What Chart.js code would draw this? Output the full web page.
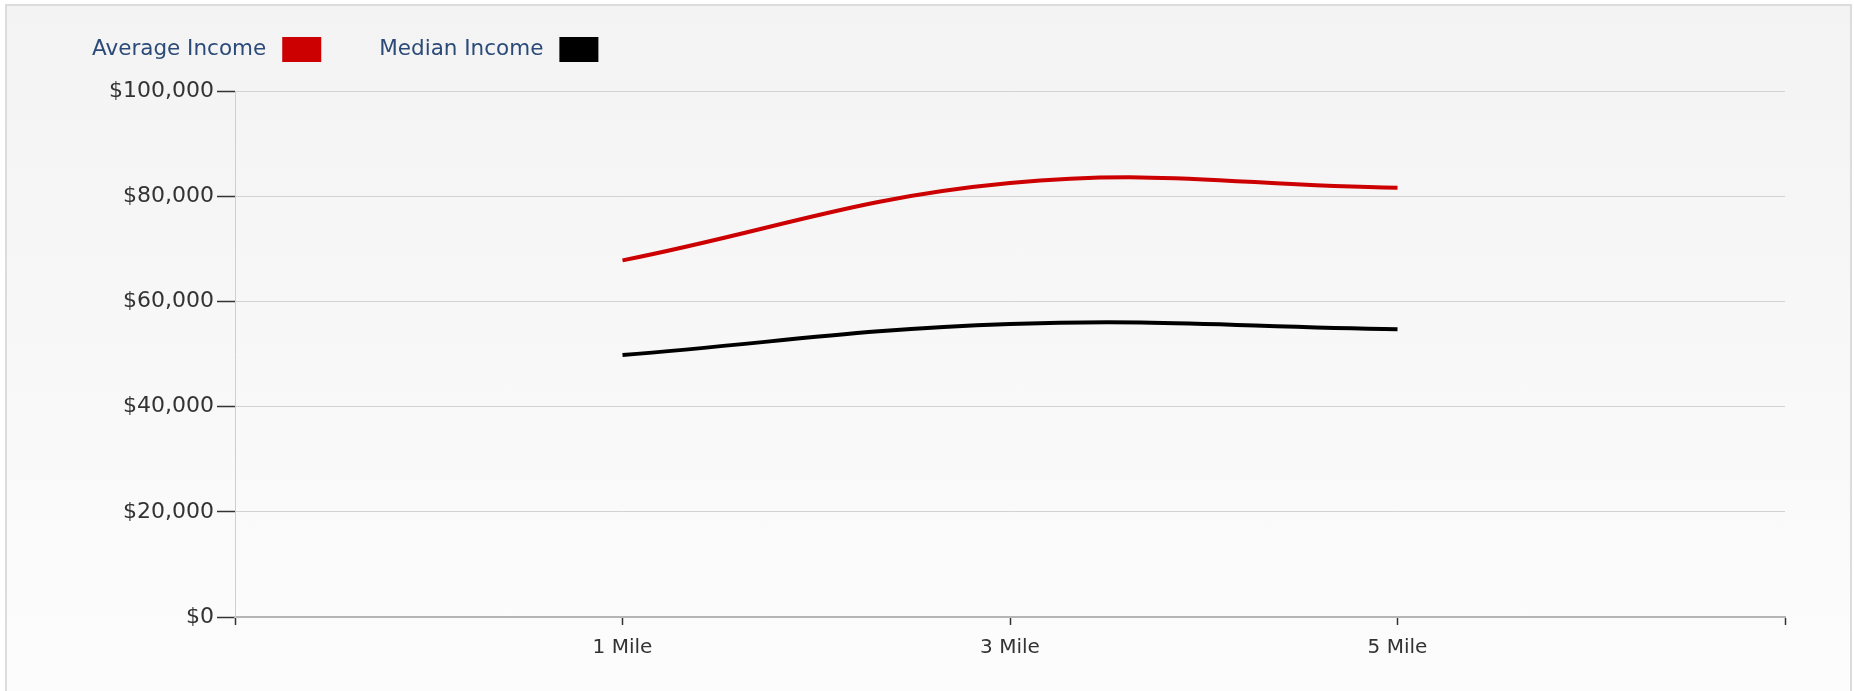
<!DOCTYPE html>
<html>
<head>
<meta charset="utf-8">
<script src="https://cdn.jsdelivr.net/npm/chart.js@4"></script>
<style>
    html, body { margin: 0; padding: 0; background: #fff; overflow: hidden; }
    #frame {
        position: absolute; left: 5px; top: 4px; width: 1843px; height: 720px;
        border: 2px solid #dcdcdc;
        background: linear-gradient(#f3f3f3, #fdfdfd);
    }
    #chartIncome { position: absolute; left: 0; top: 0; }
</style>
</head>
<body>
<div id="frame"></div>
<canvas id="chartIncome" width="1854" height="691"></canvas>
<script>
// data
var labelJarak = ['', '1 Mile', '3 Mile', '5 Mile', ''];
var dataRataRata = [null, 67800, 82500, 81600, null];
var dataMedian = [null, 49800, 55700, 54700, null];
var tickPendapatan = [0, 20000, 40000, 60000, 80000, 100000];

var fontUtama = 'DejaVu Sans';

// legenda: teks dulu, lalu kotak warna
var legendaKustom = {
    id: 'legendaKustom',
    afterDraw: function(chart) {
        var ctx = chart.ctx;
        var x = 92;
        var y = 49;
        ctx.save();
        ctx.font = '21.5px "' + fontUtama + '"';
        ctx.textBaseline = 'middle';
        chart.data.datasets.forEach(function(ds) {
            ctx.fillStyle = '#2b4a78';
            ctx.fillText(ds.label, x, y);
            x += ctx.measureText(ds.label).width + 16;
            ctx.fillStyle = ds.borderColor;
            ctx.fillRect(x, y - 12, 39, 25);
            x += 39 + 58;
        });
        ctx.restore();
    }
};

var ctxIncome = document.getElementById('chartIncome').getContext('2d');
var chartIncome = new Chart(ctxIncome, {
    type: 'line',
    data: {
        labels: labelJarak,
        datasets: [{
            label: 'Average Income',
            data: dataRataRata,
            borderColor: '#cc0000',
            borderWidth: 4,
            tension: 0.4,
            pointRadius: 0,
            fill: false
        }, {
            label: 'Median Income',
            data: dataMedian,
            borderColor: '#000000',
            borderWidth: 4,
            tension: 0.4,
            pointRadius: 0,
            fill: false
        }]
    },
    options: {
        responsive: false,
        animation: false,
        layout: {
            padding: { left: 0, right: 69, top: 91, bottom: 0 }
        },
        scales: {
            x: {
                offset: false,
                grid: {
                    display: true,
                    drawOnChartArea: false,
                    tickLength: 8,
                    tickColor: '#333',
                    tickWidth: 1.5
                },
                border: { color: '#b5b5b5', width: 2 },
                ticks: {
                    autoSkip: false,
                    maxRotation: 0,
                    padding: 11,
                    color: '#333',
                    font: { family: fontUtama, size: 20 }
                },
                afterFit: function(scale) { scale.height = 74; }
            },
            y: {
                min: 0,
                max: 100000,
                afterBuildTicks: function(scale) {
                    scale.ticks = tickPendapatan.map(function(v) { return { value: v }; });
                },
                grid: {
                    color: '#d2d2d2',
                    tickColor: '#333',
                    tickLength: 18,
                    tickWidth: 1.5
                },
                border: { color: '#cfcfcf', width: 1 },
                ticks: {
                    padding: 3,
                    color: '#333',
                    font: { family: fontUtama, size: 22 },
                    callback: function(v) { return '$' + v.toLocaleString('en-US'); }
                },
                afterFit: function(scale) { scale.width = 235; }
            }
        },
        plugins: {
            legend: { display: false },
            tooltip: { enabled: false }
        }
    },
    plugins: [legendaKustom]
});
</script>
</body>
</html>
